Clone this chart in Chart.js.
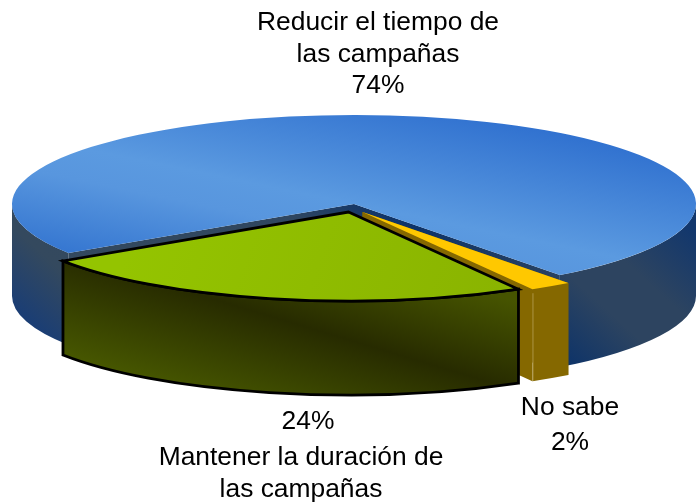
<!DOCTYPE html>
<html>
<head>
<meta charset="utf-8">
<script src="https://cdn.jsdelivr.net/npm/chart.js@4"></script>
<style>
html,body{margin:0;padding:0;background:#fff;}
#wrap{position:absolute;left:0;top:0;width:696px;height:502px;}
</style>
</head>
<body>
<div id="wrap"><canvas id="c" width="696" height="502"></canvas></div>
<script>
const categories = ["Reducir el tiempo de las campañas", "No sabe", "Mantener la duración de las campañas"];
const seriesValues = [74, 2, 24];
const labelLines = [
  ["Reducir el tiempo de", "las campañas", "74%"],
  ["No sabe", "2%"],
  ["24%", "Mantener la duración de", "las campañas"]
];
const topColors = ["#5b9ae0", "#ffc800", "#90bf00"];

// Projection of the flat pie into the tilted view
const view = {cx: 354, cy: 204, rx: 342, ry: 89, rotation: 236.6};
const sliceLook = [
  {shift: [0, 0], depth: 92},
  {shift: [8.5, 8], depth: 92},
  {shift: [-5.5, 8], depth: 94, stroke: "#000"}
];
const labelSpots = [
  {xs: [378, 378, 378], ys: [23, 55, 86]},
  {xs: [570, 570], ys: [408, 443]},
  {xs: [308, 301, 301], ys: [422, 458, 490]}
];

function gradient(ctx, x0, y0, x1, y1, stops) {
  const g = ctx.createLinearGradient(x0, y0, x1, y1);
  stops.forEach(s => g.addColorStop(s[0], s[1]));
  return g;
}

const pie3d = {
  id: "pie3d",
  beforeDatasetsDraw(chart) {
    const ctx = chart.ctx;
    const arcs = chart.getDatasetMeta(0).data;
    const blueTop = gradient(ctx, 377, 91, 328, 331, [[0, "#2f70cf"], [0.47, "#5b9ae0"], [0.6, "#5896de"], [1, "#2a6ccc"]]);
    const blueWall = gradient(ctx, -154, 170, 201, -222, [
      [0.023, "#1b3e74"], [0.132, "#34495e"], [0.5, "#2f4660"], [0.64, "#0d3369"],
      [0.77, "#2d4460"], [0.86, "#2d4460"], [0.99, "#12376d"]]);
    const greenWall = gradient(ctx, -93, 307, -41, 134, [[0, "#465600"], [0.53, "#272b00"], [1, "#465400"]]);
    const greenTop = gradient(ctx, 150, 180, 500, 300, [[0, "#94c400"], [1, "#8ab400"]]);
    const walls = [blueWall, "#856800", greenWall];
    const tops = [blueTop, topColors[1], greenTop];

    arcs.forEach((arc, i) => {
      const look = sliceLook[i];
      const k = view.rx / arc.outerRadius;
      const rx = arc.outerRadius * k;
      const ry = arc.outerRadius * view.ry / arc.outerRadius;
      const cx = view.cx + (arc.x - chart.width / 2) * k + look.shift[0];
      const cy = view.cy + look.shift[1];
      const a = arc.startAngle, b = arc.endAngle, d = look.depth;
      const rim = t => [cx + rx * Math.cos(t), cy + ry * Math.sin(t)];

      // cut faces
      ctx.fillStyle = walls[i];
      [a, b].forEach(t => {
        const p = rim(t);
        ctx.beginPath();
        ctx.moveTo(cx, cy); ctx.lineTo(p[0], p[1]);
        ctx.lineTo(p[0], p[1] + d); ctx.lineTo(cx, cy + d);
        ctx.closePath(); ctx.fill();
      });

      // outer wall, front half only
      [0, 2 * Math.PI].forEach(base => {
        const s = Math.max(a, base), e = Math.min(b, base + Math.PI);
        if (e <= s) return;
        ctx.beginPath();
        ctx.ellipse(cx, cy, rx, ry, 0, s, e);
        ctx.ellipse(cx, cy + d, rx, ry, 0, e, s, true);
        ctx.closePath();
        ctx.fillStyle = walls[i];
        ctx.fill();
        if (look.stroke) {
          ctx.strokeStyle = look.stroke; ctx.lineWidth = 2.8; ctx.lineJoin = "miter"; ctx.stroke();
        }
      });

      // top face
      ctx.beginPath();
      ctx.moveTo(cx, cy);
      ctx.ellipse(cx, cy, rx, ry, 0, a, b);
      ctx.closePath();
      ctx.fillStyle = tops[i];
      ctx.fill();
      if (look.stroke) {
        ctx.strokeStyle = look.stroke; ctx.lineWidth = 2.8; ctx.lineJoin = "miter"; ctx.stroke();
      }

      // faint seam on the small slice
      if (i === 1) {
        const p = rim(b);
        ctx.strokeStyle = "rgba(220,205,150,0.45)"; ctx.lineWidth = 1;
        ctx.beginPath(); ctx.moveTo(p[0] + 0.5, p[1] + 4); ctx.lineTo(p[0] + 0.5, p[1] + d); ctx.stroke();
      }
    });
    return false;
  },
  afterDraw(chart) {
    const ctx = chart.ctx;
    ctx.save();
    ctx.font = '26.4px "Liberation Sans", Arial, sans-serif';
    ctx.fillStyle = "#000";
    ctx.textAlign = "center";
    ctx.textBaseline = "middle";
    labelLines.forEach((lines, i) => {
      lines.forEach((line, j) => ctx.fillText(line, labelSpots[i].xs[j], labelSpots[i].ys[j]));
    });
    ctx.restore();
  }
};

new Chart(document.getElementById("c"), {
  type: "pie",
  data: {
    labels: categories,
    datasets: [{data: seriesValues, backgroundColor: topColors, borderWidth: 0}]
  },
  options: {
    responsive: false,
    animation: false,
    rotation: view.rotation,
    layout: {padding: 0},
    plugins: {legend: {display: false}, tooltip: {enabled: false}, title: {display: false}}
  },
  plugins: [pie3d]
});
</script>
</body>
</html>
